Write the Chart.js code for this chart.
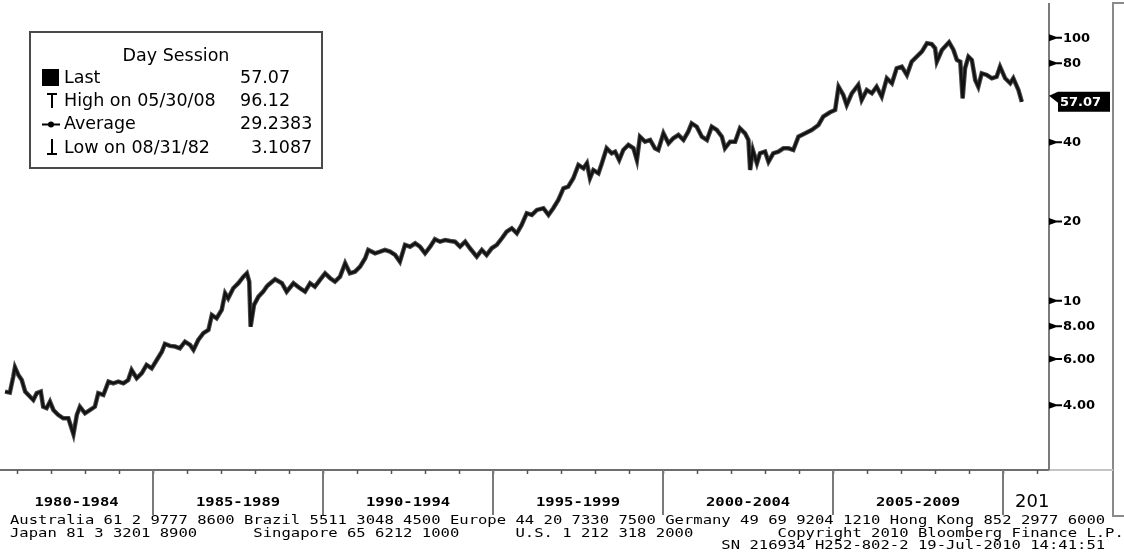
<!DOCTYPE html>
<html>
<head>
<meta charset="utf-8">
<script src="https://cdn.jsdelivr.net/npm/chart.js@4.4.1/dist/chart.umd.min.js"></script>
<style>
  html, body { margin: 0; padding: 0; background: #ffffff; }
  #c { display: block; }
</style>
</head>
<body>
<canvas id="c" width="1124" height="558"></canvas>
<script>
// Time (decimal years) and closing price of the day session series
const years = [1980.65,1980.79,1980.89,1980.94,1981.04,1981.14,1981.24,1981.38,1981.48,1981.58,
  1981.70,1981.77,1981.87,1981.97,1982.07,1982.21,1982.36,1982.51,1982.66,1982.76,
  1982.85,1983.00,1983.15,1983.29,1983.39,1983.54,1983.69,1983.83,1983.98,1984.13,
  1984.27,1984.37,1984.52,1984.67,1984.81,1984.96,1985.11,1985.26,1985.35,1985.50,
  1985.65,1985.79,1985.94,1986.09,1986.19,1986.33,1986.48,1986.63,1986.73,1986.87,
  1987.02,1987.12,1987.21,1987.36,1987.51,1987.66,1987.76,1987.83,1987.87,1987.97,
  1988.10,1988.24,1988.34,1988.39,1988.59,1988.79,1988.93,1989.13,1989.32,1989.47,
  1989.62,1989.76,1989.91,1990.06,1990.21,1990.35,1990.50,1990.65,1990.79,1990.94,
  1991.09,1991.24,1991.33,1991.53,1991.68,1991.82,1991.97,1992.12,1992.26,1992.41,
  1992.56,1992.71,1992.85,1993.00,1993.15,1993.29,1993.44,1993.59,1993.74,1993.88,
  1994.03,1994.18,1994.32,1994.52,1994.67,1994.81,1994.96,1995.11,1995.26,1995.40,
  1995.55,1995.70,1995.84,1995.99,1996.14,1996.29,1996.48,1996.63,1996.77,1996.92,
  1997.07,1997.21,1997.36,1997.51,1997.66,1997.76,1997.85,1997.95,1998.10,1998.20,
  1998.34,1998.49,1998.59,1998.71,1998.83,1998.98,1999.13,1999.23,1999.32,1999.47,
  1999.62,1999.76,1999.86,2000.01,2000.16,2000.30,2000.45,2000.60,2000.74,2000.84,
  2000.99,2001.14,2001.29,2001.43,2001.58,2001.73,2001.82,2001.97,2002.12,2002.26,
  2002.41,2002.51,2002.56,2002.64,2002.76,2002.85,2003.00,2003.10,2003.24,2003.39,
  2003.54,2003.69,2003.83,2003.98,2004.18,2004.37,2004.57,2004.71,2004.91,2005.06,
  2005.16,2005.30,2005.40,2005.55,2005.74,2005.84,2005.99,2006.14,2006.28,2006.43,
  2006.58,2006.73,2006.87,2007.02,2007.17,2007.31,2007.46,2007.61,2007.76,2007.90,
  2008.00,2008.05,2008.20,2008.41,2008.54,2008.64,2008.74,2008.81,2008.88,2008.98,
  2009.08,2009.18,2009.27,2009.37,2009.52,2009.67,2009.81,2009.91,2010.06,2010.21,
  2010.30,2010.45,2010.55];

const prices = [4.51,4.47,5.14,5.58,5.22,4.99,4.51,4.32,4.19,4.45,
  4.51,3.95,3.90,4.13,3.84,3.68,3.57,3.57,3.1087,3.68,
  3.95,3.73,3.84,3.95,4.45,4.38,4.92,4.85,4.92,4.85,
  4.99,5.45,5.07,5.30,5.70,5.53,5.95,6.40,6.85,6.73,
  6.69,6.59,6.98,6.79,6.50,7.09,7.52,7.74,8.82,8.57,
  9.22,10.67,10.21,11.15,11.65,12.34,12.71,11.81,7.96,9.63,
  10.36,10.82,11.30,11.47,12.06,11.65,10.82,11.65,11.15,10.82,
  11.65,11.30,11.99,12.71,12.17,11.81,12.34,13.87,12.71,12.89,
  13.47,14.50,15.59,15.14,15.36,15.59,15.36,14.92,14.07,16.29,
  16.04,16.53,16.04,15.14,16.04,17.12,16.76,17.01,16.87,16.76,
  16.04,16.76,15.82,14.70,15.59,14.92,15.82,16.29,17.27,18.30,
  18.85,18.04,19.40,21.50,21.18,22.13,22.46,21.18,22.46,24.15,
  26.75,27.13,29.20,32.81,31.87,33.30,29.20,31.40,30.51,33.30,
  37.97,36.34,36.86,34.27,37.41,39.09,37.97,34.27,42.03,40.23,
  40.84,37.97,37.41,43.30,39.67,41.45,42.66,40.84,43.91,47.26,
  45.88,42.03,40.84,45.88,44.57,42.03,37.97,40.23,40.23,45.24,
  43.30,40.84,31.40,37.41,33.30,36.34,36.86,33.77,36.34,36.86,
  37.97,37.97,37.41,42.03,43.30,44.57,46.57,50.07,52.04,53.10,
  65.12,60.55,55.47,61.46,66.10,57.96,63.27,61.46,65.12,59.66,
  70.09,67.09,76.50,77.58,72.14,81.05,84.67,88.46,95.22,94.50,
  91.14,81.05,89.79,96.12,89.79,82.27,81.05,58.83,76.50,84.67,
  82.27,69.05,65.12,73.22,72.14,70.09,71.07,77.58,70.09,67.09,
  70.09,63.27,57.07];

// Right-hand price axis ticks
const yTickValues = [4, 6, 8, 10, 20, 40, 80, 100];
const yTickLabels = ['4.00', '6.00', '8.00', '10', '20', '40', '80', '100'];

// Five-year bands on the time axis
const periodStarts = [1980, 1985, 1990, 1995, 2000, 2005];
const periodLabels = ['1980-1984', '1985-1989', '1990-1994', '1995-1999', '2000-2004', '2005-2009'];
const lastPeriodStart = 2010;
const lastPeriodLabel = '201';

// Legend block
const legendTitle = 'Day Session';
const legendNames = ['Last', 'High on 05/30/08', 'Average', 'Low on 08/31/82'];
const legendValues = ['57.07', '96.12', '29.2383', '3.1087'];
const lastValue = 57.07;

// Footer lines
const footerLines = [
  'Australia 61 2 9777 8600 Brazil 5511 3048 4500 Europe 44 20 7330 7500 Germany 49 69 9204 1210 Hong Kong 852 2977 6000',
  'Japan 81 3 3201 8900      Singapore 65 6212 1000      U.S. 1 212 318 2000         Copyright 2010 Bloomberg Finance L.P.',
  '                                                                            SN 216934 H252-802-2 19-Jul-2010 14:41:51'
];

const MONO = '"DejaVu Sans Mono", "Liberation Mono", monospace';
const SANS = '"DejaVu Sans", "Liberation Sans", sans-serif';
const PITCH = 9.36;

function monoText(ctx, str, x, y, size, bold, align) {
  ctx.save();
  ctx.font = (bold ? 'bold ' : '') + size + 'px ' + MONO;
  const nat = ctx.measureText('0').width;
  const sx = PITCH / nat;
  const w = str.length * PITCH;
  let x0 = x;
  if (align === 'center') x0 = x - w / 2;
  ctx.translate(x0, y);
  ctx.scale(sx, 1);
  ctx.textAlign = 'left';
  ctx.textBaseline = 'middle';
  ctx.fillText(str, 0, 0);
  ctx.restore();
}

const decorations = {
  id: 'decorations',
  afterDraw(chart) {
    const ctx = chart.ctx;
    const xs = chart.scales.x;
    const ys = chart.scales.y;
    const area = chart.chartArea;
    const L = area.left, R = area.right, T = area.top, B = area.bottom;
    ctx.save();

    // frame on the right
    ctx.strokeStyle = '#8a8a8a';
    ctx.lineWidth = 2;
    ctx.beginPath();
    ctx.moveTo(1124, 3); ctx.lineTo(1113, 3); ctx.lineTo(1113, 516); ctx.lineTo(1124, 516);
    ctx.stroke();

    // bottom axis line
    ctx.strokeStyle = '#c4c4c4';
    ctx.beginPath(); ctx.moveTo(R, B + 1); ctx.lineTo(1113, B + 1); ctx.stroke();
    ctx.strokeStyle = '#6e6e6e';
    ctx.beginPath(); ctx.moveTo(L, B + 1); ctx.lineTo(R + 1, B + 1); ctx.stroke();

    // right axis line
    ctx.strokeStyle = '#7a7a7a';
    ctx.beginPath(); ctx.moveTo(R + 1, T); ctx.lineTo(R + 1, B + 1); ctx.stroke();

    // yearly ticks and five-year separators
    ctx.strokeStyle = '#555';
    ctx.lineWidth = 1.5;
    for (let yr = 1981; yr <= 2011; yr++) {
      const px = Math.round(xs.getPixelForValue(yr)) + 0.5;
      if (px < L || px > R) continue;
      ctx.beginPath();
      ctx.moveTo(px, B + 1);
      ctx.lineTo(px, B + 5);
      ctx.stroke();
    }
    ctx.strokeStyle = '#7a7a7a';
    ctx.lineWidth = 2;
    periodStarts.concat([lastPeriodStart]).forEach(yr => {
      const px = Math.round(xs.getPixelForValue(yr));
      if (px < L + 2 || px > R) return;
      ctx.beginPath();
      ctx.moveTo(px, B + 1);
      ctx.lineTo(px, 515);
      ctx.stroke();
    });

    // period labels
    ctx.fillStyle = '#000';
    periodStarts.forEach((yr, i) => {
      const a = Math.max(L, xs.getPixelForValue(yr));
      const b = Math.min(R, xs.getPixelForValue(yr + 5));
      monoText(ctx, periodLabels[i], (a + b) / 2, 503, 13, true, 'center');
    });
    ctx.font = '18px ' + SANS;
    ctx.textAlign = 'left';
    ctx.textBaseline = 'middle';
    ctx.fillText(lastPeriodLabel, xs.getPixelForValue(lastPeriodStart) + 12, 502);

    // footer
    const fy = [521, 533.5, 546];
    footerLines.forEach((s, i) => monoText(ctx, s, 10, fy[i], 13, false, 'left'));

    // price axis ticks
    ctx.fillStyle = '#000';
    ctx.font = 'bold 13px ' + SANS;
    ctx.textBaseline = 'middle';
    ctx.textAlign = 'left';
    yTickValues.forEach((v, i) => {
      const py = ys.getPixelForValue(v);
      ctx.beginPath();
      ctx.moveTo(R + 1, py - 3.5);
      ctx.lineTo(R + 8, py - 1);
      ctx.lineTo(R + 14, py - 1);
      ctx.lineTo(R + 14, py + 1);
      ctx.lineTo(R + 8, py + 1);
      ctx.lineTo(R + 1, py + 3.5);
      ctx.closePath();
      ctx.fill();
      ctx.fillText(yTickLabels[i], R + 15, py + 0.5);
    });

    // last value marker
    const ly = ys.getPixelForValue(lastValue);
    ctx.fillStyle = '#000';
    ctx.beginPath();
    ctx.moveTo(R + 1, ly - 6);
    ctx.lineTo(R + 10, ly - 10);
    ctx.lineTo(1110, ly - 10);
    ctx.lineTo(1110, ly + 10);
    ctx.lineTo(R + 10, ly + 10);
    ctx.lineTo(R + 10, ly + 1);
    ctx.closePath();
    ctx.fill();
    ctx.fillStyle = '#fff';
    ctx.font = 'bold 13px ' + SANS;
    ctx.fillText(lastValue.toFixed(2), R + 12, ly + 1);

    // legend block
    ctx.fillStyle = '#fff';
    ctx.fillRect(30, 32, 292, 136);
    ctx.strokeStyle = '#4a4a4a';
    ctx.lineWidth = 2;
    ctx.strokeRect(30, 32, 292, 136);
    ctx.fillStyle = '#000';
    ctx.font = '17.5px ' + SANS;
    ctx.textAlign = 'center';
    ctx.fillText(legendTitle, 176, 56);
    ctx.textAlign = 'left';
    const rowY = [78, 101.5, 124.5, 148];
    legendNames.forEach((n, i) => ctx.fillText(n, 64, rowY[i]));
    const valX = [240, 240, 240, 251];
    legendValues.forEach((v, i) => ctx.fillText(v, valX[i], rowY[i]));
    // icons
    ctx.fillRect(42, 69, 17, 17);
    ctx.strokeStyle = '#000';
    ctx.lineWidth = 2;
    ctx.beginPath();
    ctx.moveTo(47, 94); ctx.lineTo(57, 94);
    ctx.moveTo(52, 93); ctx.lineTo(52, 108);
    ctx.stroke();
    ctx.beginPath();
    ctx.moveTo(42, 124.5); ctx.lineTo(60, 124.5);
    ctx.stroke();
    ctx.beginPath(); ctx.arc(51, 124.5, 3, 0, Math.PI * 2); ctx.fill();
    ctx.beginPath();
    ctx.moveTo(52, 139); ctx.lineTo(52, 154);
    ctx.moveTo(47, 154); ctx.lineTo(57, 154);
    ctx.stroke();

    ctx.restore();
  }
};

const points = years.map((t, i) => ({ x: t, y: prices[i] }));

new Chart(document.getElementById('c'), {
  type: 'line',
  data: {
    datasets: [{
      // dark price trace
      data: points,
      borderColor: '#121212',
      borderWidth: 2.5,
      borderJoinStyle: 'miter',
      pointRadius: 0,
      tension: 0,
      fill: false,
      order: 0
    }, {
      // daily-range shading behind the trace
      data: points,
      borderColor: '#4a4a4a',
      borderWidth: 4.5,
      borderJoinStyle: 'miter',
      pointRadius: 0,
      tension: 0,
      fill: false,
      order: 1
    }]
  },
  options: {
    responsive: false,
    animation: false,
    devicePixelRatio: 1,
    layout: { padding: { top: 3, left: 0, right: 0, bottom: 0 } },
    plugins: { legend: { display: false }, tooltip: { enabled: false } },
    scales: {
      x: {
        type: 'linear',
        min: 1980.5,
        max: 2011.32,
        grid: { display: false },
        border: { display: false },
        ticks: { display: false },
        afterFit(scale) { scale.height = 89; }
      },
      y: {
        type: 'logarithmic',
        position: 'right',
        min: 2.29,
        max: 135.5,
        grid: { display: false },
        border: { display: false },
        ticks: { display: false },
        afterFit(scale) { scale.width = 76; }
      }
    }
  },
  plugins: [decorations]
});
</script>
</body>
</html>
